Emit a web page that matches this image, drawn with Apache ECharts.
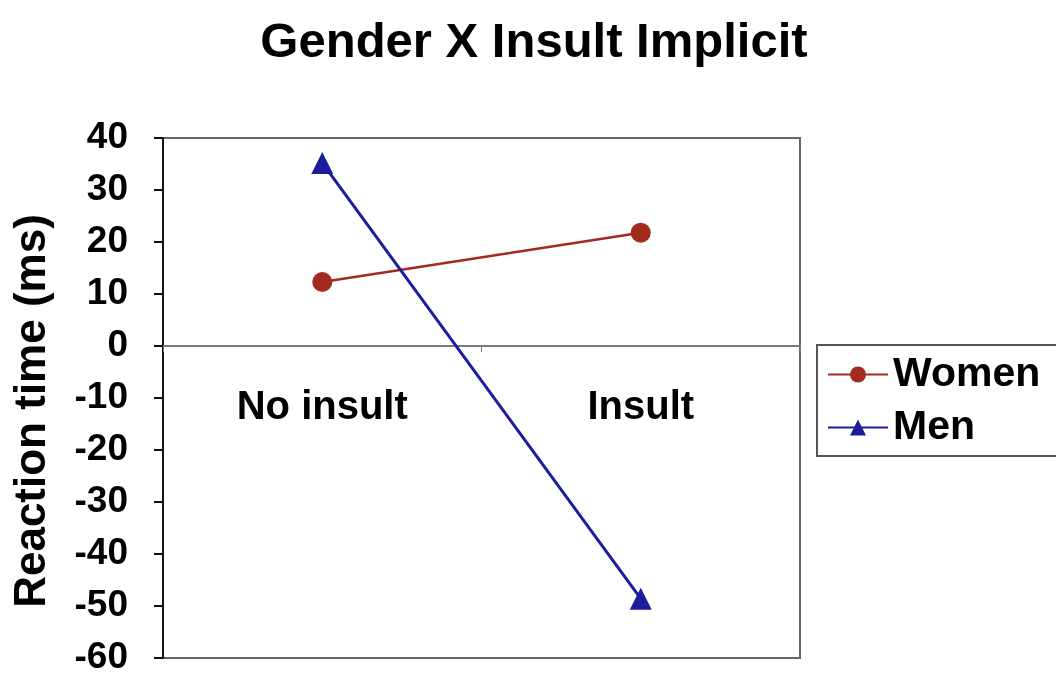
<!DOCTYPE html>
<html>
<head>
<meta charset="utf-8">
<script src="https://cdn.jsdelivr.net/npm/echarts@6/dist/echarts.min.js"></script>
<style>
  html, body { margin: 0; padding: 0; background: #fff; }
  #chart { width: 1056px; height: 677px; }
</style>
</head>
<body>
<div id="chart"></div>
<script>
// data
const categories = ['No insult', 'Insult'];
const women = [12.3, 21.8];
const men = [35.2, -48.6];
const yMin = -60, yMax = 40, yStep = 10;

const font = '"Liberation Sans", Arial, Helvetica, sans-serif';
const gridTop = 138, gridBottom = 19, chartH = 677;
const plotH = chartH - gridTop - gridBottom;
// category axis sits on the zero line (Excel style)
const zeroOffset = -plotH * (0 - yMin) / (yMax - yMin);

const chart = echarts.init(document.getElementById('chart'));

chart.setOption({
    animation: false,
    backgroundColor: '#fff',
    title: {
        text: 'Gender X Insult Implicit',
        left: 529,
        textAlign: 'center',
        top: 14,
        textStyle: { fontFamily: font, fontSize: 49, fontWeight: 'bold', color: '#000' }
    },
    legend: {
        orient: 'vertical',
        left: 817,
        top: 345,
        padding: [9, 40, 8, 10],
        itemGap: 12,
        itemWidth: 60,
        itemHeight: 20,
        borderColor: '#555',
        borderWidth: 2,
        data: ['Women', 'Men'],
        textStyle: { fontFamily: font, fontSize: 41, fontWeight: 'bold', color: '#000' }
    },
    grid: {
        left: 163,
        right: 256,
        top: gridTop,
        bottom: gridBottom,
        outerBoundsMode: 'none',
        show: true,
        borderColor: '#666',
        borderWidth: 2
    },
    xAxis: {
        type: 'category',
        data: categories,
        boundaryGap: true,
        offset: zeroOffset,
        axisLine: { onZero: false, lineStyle: { color: '#7a7a7a', width: 2 } },
        axisTick: { show: true, length: 6, lineStyle: { color: '#7a7a7a' } },
        axisLabel: {
            margin: 42,
            fontFamily: font,
            fontSize: 40,
            fontWeight: 'bold',
            color: '#000'
        },
        splitLine: { show: false }
    },
    yAxis: {
        type: 'value',
        min: yMin,
        max: yMax,
        interval: yStep,
        name: 'Reaction time (ms)',
        nameLocation: 'middle',
        nameRotate: 90,
        nameGap: 108,
        nameTextStyle: { fontFamily: font, fontSize: 44, fontWeight: 'bold', color: '#000', padding: [0, 26, 0, 0] },
        axisLine: { show: true, lineStyle: { color: '#111', width: 2 } },
        axisTick: { show: true, inside: false, length: 9, lineStyle: { color: '#111', width: 2 } },
        axisLabel: {
            margin: 35,
            fontFamily: font,
            fontSize: 37,
            fontWeight: 'bold',
            color: '#000'
        },
        splitLine: { show: false }
    },
    series: [
        {
            name: 'Women',
            type: 'line',
            data: women,
            symbol: 'circle',
            symbolSize: 20,
            lineStyle: { color: '#a32a1f', width: 2.5 },
            itemStyle: { color: '#a32a1f' }
        },
        {
            name: 'Men',
            type: 'line',
            data: men,
            symbol: 'triangle',
            symbolSize: 22,
            lineStyle: { color: '#1c1c9c', width: 3 },
            itemStyle: { color: '#1c1c9c' }
        }
    ]
});
</script>
</body>
</html>
